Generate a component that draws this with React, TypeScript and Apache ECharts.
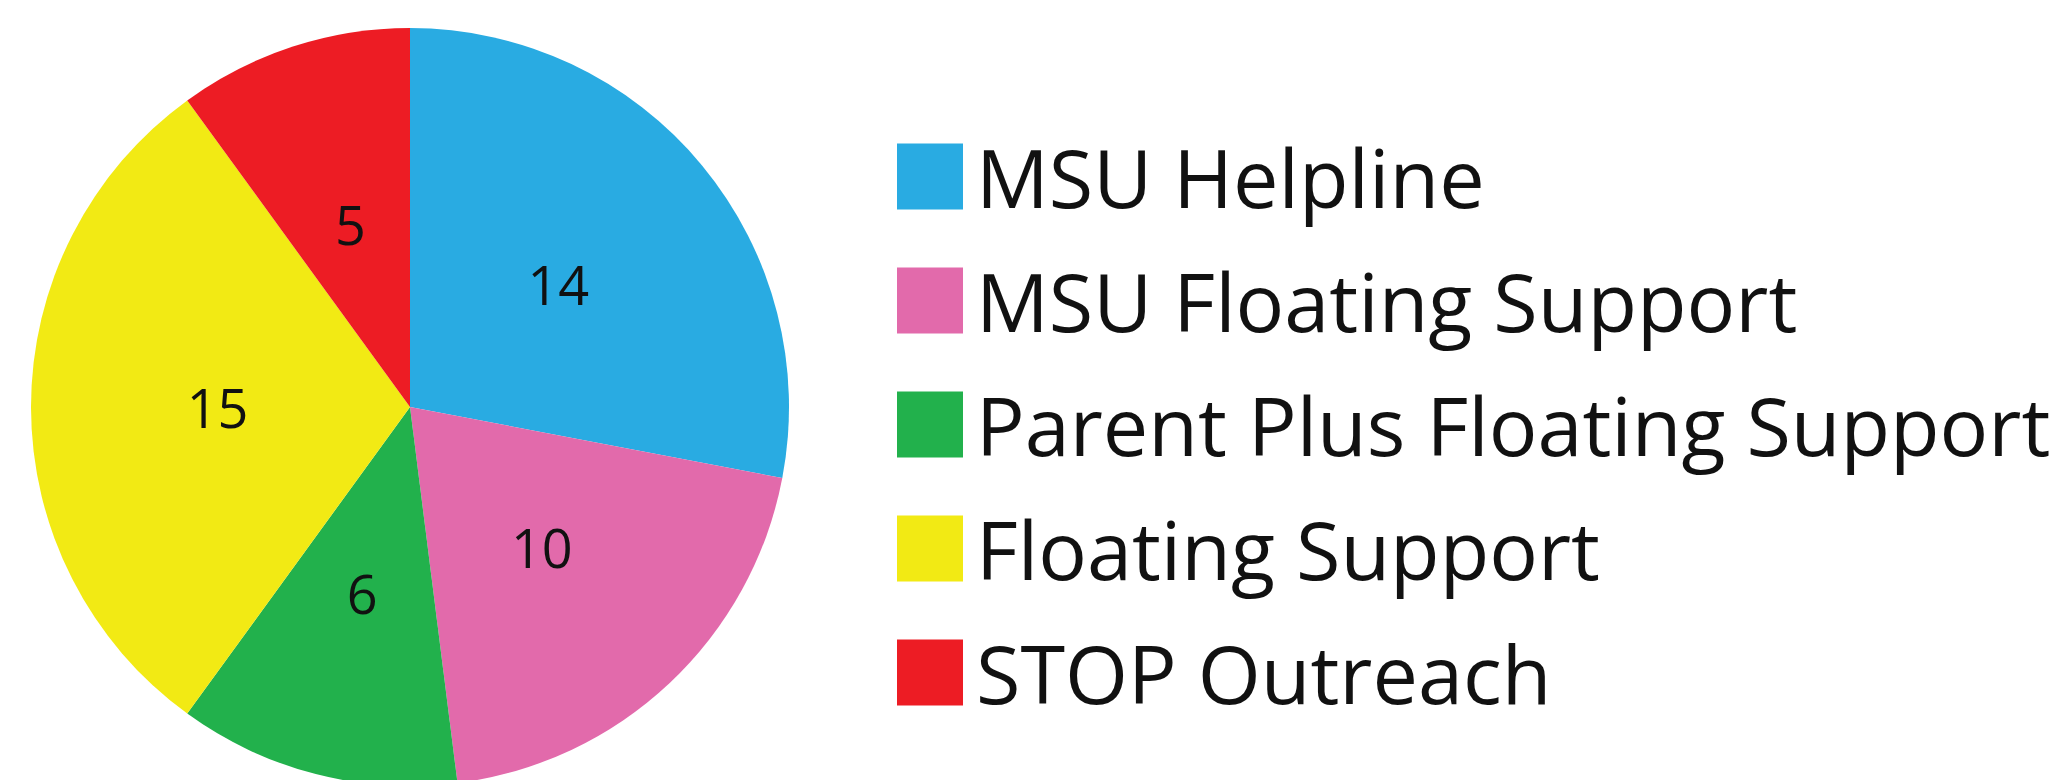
import React, { useEffect, useRef } from "react";
import * as echarts from "echarts";

const categories = [
  "MSU Helpline",
  "MSU Floating Support",
  "Parent Plus Floating Support",
  "Floating Support",
  "STOP Outreach",
];
const values = [14, 10, 6, 15, 5];
const colors = ["#29ABE2", "#E26AAB", "#22B14C", "#F2EA14", "#ED1C24"];

export default function App() {
  const ref = useRef<HTMLDivElement>(null);
  useEffect(() => {
    document.body.style.margin = "0";
    if (!ref.current) return;
    const chart = echarts.init(ref.current, undefined, { renderer: "svg" });
    chart.setOption({
      animation: false,
      backgroundColor: "#ffffff",
      color: colors,
      legend: {
        orient: "vertical",
        left: 897,
        top: 136,
        padding: 0,
        icon: "rect",
        itemWidth: 66,
        itemHeight: 66,
        itemGap: 43,
        selectedMode: false,
        data: categories,
        textStyle: {
          fontFamily: "Open Sans",
          fontSize: 81,
          color: "#111111",
          padding: [0, 0, 0, 8],
        },
      },
      series: [
        {
          type: "pie",
          center: [410, 407],
          radius: 379,
          startAngle: 90,
          clockwise: true,
          silent: true,
          emphasis: { disabled: true },
          label: {
            show: true,
            position: "inside",
            formatter: "{c}",
            fontFamily: "Open Sans",
            fontSize: 54,
            color: "#111111",
          },
          labelLine: { show: false },
          itemStyle: { borderWidth: 0 },
          data: categories.map((name, i) => ({ name, value: values[i] })),
        },
      ],
    });
    return () => chart.dispose();
  }, []);
  return <div ref={ref} style={{ width: 2066, height: 780 }} />;
}
